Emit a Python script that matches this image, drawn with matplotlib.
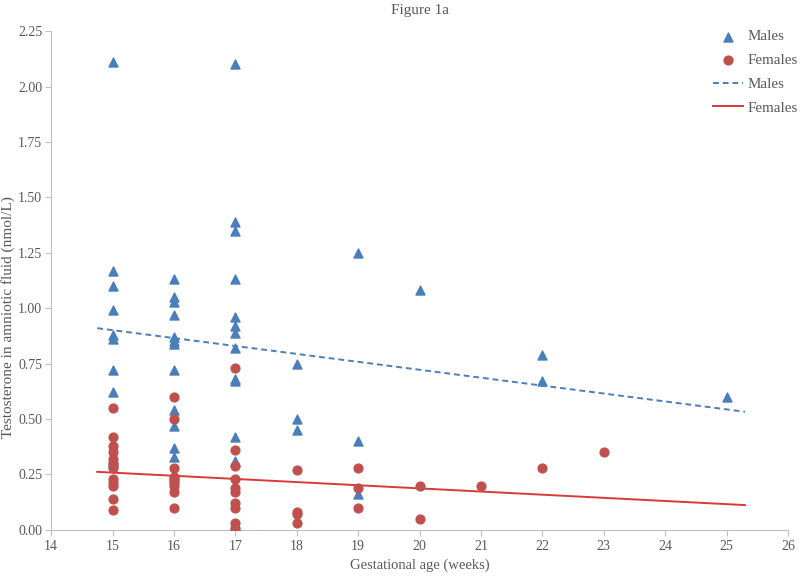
import numpy as np
import matplotlib
matplotlib.use('Agg')
import matplotlib.pyplot as plt

# values (gestational week, testosterone nmol/L)
male_x = [15]*10 + [16]*12 + [17]*12 + [18]*3 + [19]*3 + [20] + [22]*2 + [25]
male_y = [2.11, 1.17, 1.10, 0.99, 0.88, 0.86, 0.72, 0.62, 0.32, 0.31,
          1.13, 1.05, 1.03, 0.97, 0.87, 0.85, 0.84, 0.72, 0.54, 0.47, 0.37, 0.33,
          2.10, 1.39, 1.35, 1.13, 0.96, 0.92, 0.89, 0.82, 0.68, 0.67, 0.42, 0.31,
          0.75, 0.50, 0.45,
          1.25, 0.40, 0.16,
          1.08,
          0.79, 0.67,
          0.60]

female_x = [15]*13 + [16]*10 + [17]*11 + [18]*4 + [19]*3 + [20]*2 + [21] + [22] + [23]
female_y = [0.55, 0.42, 0.38, 0.35, 0.32, 0.30, 0.29, 0.28, 0.23, 0.21, 0.20, 0.14, 0.09,
            0.60, 0.50, 0.28, 0.24, 0.23, 0.22, 0.21, 0.20, 0.17, 0.10,
            0.73, 0.36, 0.29, 0.23, 0.19, 0.17, 0.12, 0.10, 0.03, 0.01, 0.00,
            0.27, 0.08, 0.07, 0.03,
            0.28, 0.19, 0.10,
            0.20, 0.05,
            0.20,
            0.28,
            0.35]

# linear trendlines as they appear in the reference (value at each end of the span)
trend_x = [14.75, 25.3]
male_trend = [0.91, 0.533]
female_trend = [0.262, 0.112]

x_ticks = list(range(14, 27))
y_ticks = [0.00, 0.25, 0.50, 0.75, 1.00, 1.25, 1.50, 1.75, 2.00, 2.25]

blue = '#4A7EBB'
red = '#C0504D'
grey = '#595959'

plt.rcParams['font.family'] = ['Liberation Serif', 'DejaVu Serif']

fig = plt.figure(figsize=(8, 5.76), dpi=100)
ax = fig.add_axes([0.064, 0.080, 0.921, 0.866])

ax.scatter(male_x, male_y, marker='^', s=42, color=blue, label='Males', zorder=3)
ax.scatter(female_x, female_y, marker='o', s=40, color=red, label='Females', zorder=3)

ax.plot(trend_x, male_trend, '--', color=blue, lw=1.4, dashes=(3, 2), label='Males', zorder=2)
ax.plot(trend_x, female_trend, '-', color='#D83A38', lw=1.4, label='Females', zorder=2)

ax.set_xlim(14, 26)
ax.set_ylim(0, 2.25)
ax.set_xticks(x_ticks)
ax.set_yticks(y_ticks)
ax.set_yticklabels(['%.2f' % v for v in y_ticks])

for side in ['top', 'right']:
    ax.spines[side].set_visible(False)
for side in ['left', 'bottom']:
    ax.spines[side].set_color('#BFBFBF')
ax.tick_params(colors='#BFBFBF', labelcolor=grey, labelsize=10, length=4, direction='out')
ax.tick_params(axis='y', pad=2.5)

ax.set_xlabel('Gestational age (weeks)', color=grey, fontsize=10.5, labelpad=4)
fig.text(8.5 / 800, 0.45, 'Testosterone in amniotic fluid (nmol/L)', rotation=90,
         ha='center', va='center', color=grey, fontsize=11)
ax.set_title('Figure 1a', color=grey, fontsize=11, pad=12)

leg = ax.legend(loc='upper left', bbox_to_anchor=(713 / 800, 1 - 30 / 576),
                bbox_transform=fig.transFigure, frameon=False, borderpad=0,
                borderaxespad=0, fontsize=10.8, handlelength=2.0, handletextpad=0.3,
                labelspacing=0.68)
for t in leg.get_texts():
    t.set_color(grey)

fig.savefig('out.png', dpi=100)
